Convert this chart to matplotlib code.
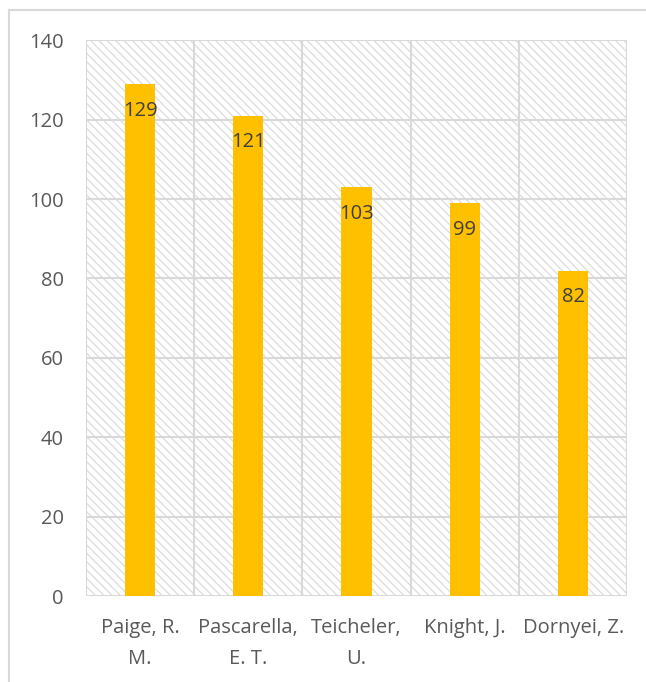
import matplotlib.pyplot as plt
from matplotlib.patches import Rectangle
from matplotlib.lines import Line2D
import numpy as np

plt.rcParams['font.family'] = ['Open Sans', 'DejaVu Sans']
plt.rcParams['hatch.linewidth'] = 0.9

authors = ['Paige, R.\nM.', 'Pascarella,\nE. T.', 'Teicheler,\nU.', 'Knight, J.', 'Dornyei, Z.']
counts = [129, 121, 103, 99, 82]

grid_col = '#d9d9d9'
bar_col = '#ffc000'
text_col = '#595959'

fig = plt.figure(figsize=(6.46, 6.82), dpi=100)
ax = fig.add_axes([0.133, 0.126, 0.838, 0.815])

x = np.arange(len(authors))
ax.set_xlim(-0.5, len(authors) - 0.5)
ax.set_ylim(0, 140)

# hatched plot background
ax.add_patch(Rectangle((0, 0), 1, 1, transform=ax.transAxes, facecolor='white',
                       edgecolor='#dcdcdc', linewidth=0, hatch='\\\\\\\\', zorder=0))

for y in range(0, 141, 20):
    ax.axhline(y, color=grid_col, lw=1.5, zorder=1)
for b in np.arange(-0.5, len(authors), 1.0):
    ax.axvline(b, color=grid_col, lw=1.5, zorder=1)

bars = ax.bar(x, counts, width=0.28, color=bar_col, zorder=2)
for xi, v in zip(x, counts):
    ax.text(xi, v - 4.2, str(v), ha='center', va='top', fontsize=14.5,
            color='#404040', zorder=3)

for s in ax.spines.values():
    s.set_visible(False)
ax.tick_params(length=0, labelsize=14.5, colors=text_col, pad=16)
ax.tick_params(axis='y', pad=16)
ax.set_yticks(range(0, 141, 20))
ax.set_xticks(x)
ax.set_xticklabels(authors, linespacing=1.7)

# chart frame (top and left edges)
fig.add_artist(Line2D([9 / 646, 9 / 646], [0, 1 - 10 / 682], color=grid_col, lw=1.5))
fig.add_artist(Line2D([9 / 646, 1], [1 - 10 / 682, 1 - 10 / 682], color=grid_col, lw=1.5))

fig.savefig('out.png', dpi=100)
